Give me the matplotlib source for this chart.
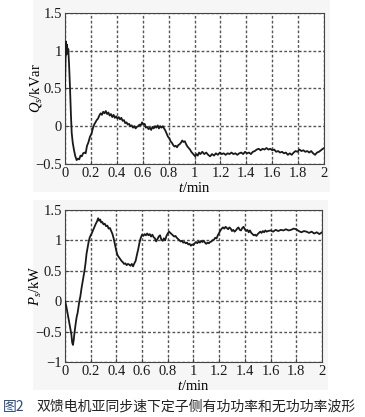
import matplotlib.pyplot as plt
from matplotlib.patches import Rectangle

plt.rcParams['font.family'] = ['Liberation Serif', 'Noto Sans CJK SC']
plt.rcParams['mathtext.fontset'] = 'custom'
plt.rcParams['mathtext.rm'] = 'Liberation Serif'
plt.rcParams['mathtext.it'] = 'Liberation Serif:italic'
plt.rcParams['font.size'] = 10

# datos: potencia reactiva Qs (kVar)
t_q = [0.000, 0.004, 0.008, 0.012, 0.016, 0.020, 0.026, 0.032, 0.039, 0.046,
       0.052, 0.060, 0.070, 0.080, 0.090, 0.100, 0.110, 0.120, 0.130, 0.140,
       0.150, 0.160, 0.170, 0.180, 0.193, 0.205, 0.215, 0.225, 0.235, 0.245,
       0.255, 0.265, 0.275, 0.285, 0.295, 0.305, 0.315, 0.325, 0.335, 0.345,
       0.355, 0.365, 0.375, 0.385, 0.395, 0.405, 0.415, 0.425, 0.435, 0.445,
       0.455, 0.465, 0.475, 0.485, 0.495, 0.505, 0.515, 0.525, 0.535, 0.545,
       0.555, 0.565, 0.575, 0.585, 0.595, 0.605, 0.615, 0.625, 0.635, 0.645,
       0.655, 0.665, 0.675, 0.685, 0.695, 0.705, 0.715, 0.725, 0.735, 0.745,
       0.755, 0.765, 0.775, 0.785, 0.795, 0.805, 0.815, 0.825, 0.835, 0.845,
       0.855, 0.865, 0.875, 0.885, 0.895, 0.905, 0.915, 0.925, 0.935, 0.945,
       0.955, 0.965, 0.975, 0.985, 0.995, 1.005, 1.015, 1.025, 1.035, 1.045,
       1.060, 1.075, 1.090, 1.105, 1.120, 1.135, 1.150, 1.165, 1.180, 1.195,
       1.210, 1.225, 1.240, 1.255, 1.270, 1.285, 1.300, 1.315, 1.330, 1.345,
       1.360, 1.375, 1.390, 1.405, 1.420, 1.435, 1.450, 1.465, 1.480, 1.495,
       1.510, 1.525, 1.540, 1.555, 1.570, 1.585, 1.600, 1.615, 1.630, 1.645,
       1.660, 1.675, 1.690, 1.705, 1.720, 1.735, 1.750, 1.765, 1.780, 1.795,
       1.810, 1.825, 1.840, 1.855, 1.870, 1.885, 1.900, 1.915, 1.930, 1.945,
       1.960, 1.975, 1.990, 2.000]
q_s = [0.50, 0.85, 1.12, 0.95, 1.08, 0.98, 1.02, 0.80, 0.50, 0.15,
       -0.09, -0.22, -0.32, -0.40, -0.45, -0.43, -0.44, -0.39, -0.40, -0.36,
       -0.35, -0.36, -0.26, -0.22, -0.14, -0.10, -0.03, 0.02, 0.05, 0.08,
       0.10, 0.14, 0.17, 0.15, 0.19, 0.17, 0.20, 0.16, 0.18, 0.14,
       0.16, 0.12, 0.15, 0.11, 0.13, 0.10, 0.12, 0.09, 0.11, 0.07,
       0.08, 0.04, 0.05, 0.02, 0.03, 0.00, 0.01, -0.02, 0.00, -0.03,
       -0.01, 0.00, 0.02, 0.01, 0.05, 0.02, 0.03, -0.02, -0.01, -0.04,
       -0.02, -0.05, -0.01, -0.03, 0.00, -0.02, 0.01, -0.03, 0.00, -0.02,
       0.00, -0.03, -0.06, -0.10, -0.14, -0.16, -0.20, -0.22, -0.25, -0.27,
       -0.26, -0.28, -0.25, -0.24, -0.22, -0.19, -0.21, -0.20, -0.24, -0.27,
       -0.29, -0.31, -0.34, -0.36, -0.38, -0.40, -0.37, -0.39, -0.35, -0.37,
       -0.34, -0.37, -0.35, -0.38, -0.40, -0.37, -0.39, -0.36, -0.38, -0.35,
       -0.37, -0.36, -0.38, -0.36, -0.37, -0.35, -0.37, -0.36, -0.38, -0.36,
       -0.35, -0.37, -0.34, -0.36, -0.35, -0.37, -0.34, -0.33, -0.31, -0.30,
       -0.32, -0.30, -0.31, -0.29, -0.31, -0.30, -0.32, -0.31, -0.34, -0.33,
       -0.35, -0.34, -0.36, -0.35, -0.38, -0.36, -0.38, -0.35, -0.33, -0.34,
       -0.31, -0.33, -0.32, -0.34, -0.33, -0.35, -0.33, -0.36, -0.38, -0.35,
       -0.34, -0.32, -0.30, -0.29]

# potencia activa Ps (kW)
t_p = [0.000, 0.010, 0.020, 0.030, 0.040, 0.050, 0.056, 0.062, 0.068, 0.074,
       0.080, 0.086, 0.092, 0.098, 0.105, 0.112, 0.120, 0.128, 0.136, 0.144,
       0.152, 0.160, 0.168, 0.176, 0.184, 0.192, 0.200, 0.210, 0.220, 0.230,
       0.240, 0.250, 0.258, 0.266, 0.274, 0.282, 0.290, 0.300, 0.310, 0.320,
       0.330, 0.340, 0.350, 0.360, 0.370, 0.380, 0.390, 0.400, 0.410, 0.420,
       0.430, 0.440, 0.450, 0.460, 0.470, 0.480, 0.490, 0.500, 0.510, 0.520,
       0.530, 0.540, 0.550, 0.560, 0.570, 0.580, 0.590, 0.600, 0.610, 0.620,
       0.630, 0.640, 0.650, 0.660, 0.670, 0.680, 0.690, 0.700, 0.710, 0.720,
       0.730, 0.740, 0.750, 0.760, 0.770, 0.780, 0.790, 0.800, 0.810, 0.820,
       0.830, 0.840, 0.850, 0.860, 0.870, 0.880, 0.890, 0.900, 0.910, 0.920,
       0.930, 0.940, 0.950, 0.960, 0.970, 0.980, 0.990, 1.000, 1.010, 1.020,
       1.030, 1.040, 1.050, 1.060, 1.070, 1.080, 1.090, 1.100, 1.110, 1.120,
       1.130, 1.140, 1.150, 1.160, 1.170, 1.180, 1.190, 1.200, 1.210, 1.220,
       1.230, 1.240, 1.250, 1.260, 1.270, 1.280, 1.290, 1.300, 1.310, 1.320,
       1.330, 1.340, 1.350, 1.360, 1.370, 1.380, 1.390, 1.400, 1.410, 1.420,
       1.430, 1.440, 1.450, 1.460, 1.470, 1.480, 1.490, 1.500, 1.510, 1.520,
       1.530, 1.540, 1.550, 1.560, 1.570, 1.580, 1.600, 1.620, 1.640, 1.660,
       1.680, 1.700, 1.720, 1.740, 1.760, 1.780, 1.800, 1.820, 1.840, 1.860,
       1.880, 1.900, 1.920, 1.940, 1.960, 1.980, 2.000]
p_s = [0.00, -0.08, -0.20, -0.32, -0.45, -0.55, -0.68, -0.72, -0.64, -0.52,
       -0.42, -0.33, -0.25, -0.20, -0.10, 0.00, 0.08, 0.20, 0.30, 0.40,
       0.50, 0.62, 0.78, 0.88, 0.97, 1.04, 1.08, 1.12, 1.17, 1.22,
       1.27, 1.31, 1.36, 1.32, 1.34, 1.29, 1.30, 1.26, 1.27, 1.23,
       1.24, 1.19, 1.20, 1.15, 1.10, 1.02, 0.92, 0.82, 0.75, 0.72,
       0.69, 0.66, 0.64, 0.61, 0.62, 0.59, 0.61, 0.60, 0.58, 0.61,
       0.57, 0.62, 0.66, 0.76, 0.85, 0.96, 1.04, 1.09, 1.07, 1.10,
       1.08, 1.11, 1.08, 1.10, 1.06, 1.09, 1.05, 1.03, 0.98, 1.02,
       1.06, 1.08, 1.01, 0.99, 1.03, 1.00, 1.07, 1.11, 1.14, 1.12,
       1.10, 1.08, 1.06, 1.07, 1.04, 1.02, 1.00, 0.98, 0.99, 0.96,
       0.97, 0.95, 0.96, 0.93, 0.94, 0.91, 0.93, 0.92, 0.95, 0.97,
       0.95, 0.98, 0.96, 0.99, 0.97, 0.99, 0.96, 0.94, 0.96, 0.95,
       0.97, 0.98, 1.00, 1.01, 1.04, 1.03, 1.08, 1.12, 1.16, 1.19,
       1.21, 1.19, 1.22, 1.20, 1.18, 1.21, 1.19, 1.15, 1.17, 1.14,
       1.16, 1.19, 1.21, 1.17, 1.16, 1.20, 1.22, 1.18, 1.15, 1.17,
       1.13, 1.16, 1.12, 1.10, 1.08, 1.09, 1.07, 1.10, 1.12, 1.14,
       1.12, 1.15, 1.13, 1.16, 1.14, 1.15, 1.16, 1.14, 1.17, 1.15,
       1.17, 1.16, 1.18, 1.16, 1.17, 1.19, 1.18, 1.15, 1.13, 1.15,
       1.14, 1.12, 1.14, 1.11, 1.13, 1.10, 1.13]

x_ticks = [0, 0.2, 0.4, 0.6, 0.8, 1, 1.2, 1.4, 1.6, 1.8, 2]
x_ticklabels = ['0', '0.2', '0.4', '0.6', '0.8', '1', '1.2', '1.4', '1.6', '1.8', '2']
q_ticks = [-0.5, 0, 0.5, 1, 1.5]
q_ticklabels = ['\u22120.5', '0', '0.5', '1', '1.5']
p_ticks = [-1, -0.5, 0, 0.5, 1, 1.5]
p_ticklabels = ['\u22121', '\u22120.5', '0', '0.5', '1', '1.5']

caption_fig = '图2'
caption_txt = '双馈电机亚同步速下定子侧有功功率和无功功率波形'

gris_panel = '#f6f6f6'
negro = '#1a1a1a'


def configurar_ejes(ax, yticks, yticklabels, ylim):
    ax.set_xlim(0, 2)
    ax.set_ylim(*ylim)
    ax.set_xticks(x_ticks)
    ax.set_xticklabels(x_ticklabels)
    ax.set_yticks(yticks)
    ax.set_yticklabels(yticklabels)
    ax.tick_params(direction='in', length=3, width=0.7, labelsize=10.5,
                   labelcolor=negro, color='#444444', pad=2)
    for s in ax.spines.values():
        s.set_color('#444444')
        s.set_linewidth(0.8)
    ax.set_xlabel(r'$t$/min', fontsize=10.5, labelpad=1)
    # rejilla punteada
    ax.grid(True, color='#555555', linewidth=1.0, linestyle=(0, (2, 1.5)))


fig = plt.figure(figsize=(3.65, 4.17), dpi=100)
fig.patch.set_facecolor('white')

# paneles grises de fondo
fig.patches.append(Rectangle((0.090, 0.540), 0.814, 0.460, transform=fig.transFigure,
                             facecolor=gris_panel, edgecolor='none', zorder=-10))
fig.patches.append(Rectangle((0.090, 0.065), 0.808, 0.456, transform=fig.transFigure,
                             facecolor=gris_panel, edgecolor='none', zorder=-10))

# arriba: Qs
ax1 = fig.add_axes([0.178, 0.607, 0.710, 0.362])
ax1.set_facecolor('white')
configurar_ejes(ax1, q_ticks, q_ticklabels, (-0.5, 1.5))
ax1.plot(t_q, q_s, color=negro, linewidth=1.3, zorder=3)
ax1.set_ylabel(r'$Q_s$/kVar', fontsize=10.5, labelpad=-6)

# abajo: Ps
ax2 = fig.add_axes([0.178, 0.132, 0.704, 0.365])
ax2.set_facecolor('white')
configurar_ejes(ax2, p_ticks, p_ticklabels, (-1, 1.5))
ax2.plot(t_p, p_s, color=negro, linewidth=1.3, zorder=3)
ax2.set_ylabel(r'$P_s$/kW', fontsize=10.5, labelpad=-6)

# pie de figura
fig.text(0.008, 0.025, caption_fig, fontsize=10, color='#2b4a78',
         family=['Noto Sans CJK SC', 'DejaVu Sans'], va='center', ha='left')
fig.text(0.100, 0.025, caption_txt, fontsize=10, color='#222222',
         family=['Noto Sans CJK SC', 'DejaVu Sans'], va='center', ha='left')

fig.savefig('out.png', dpi=100)
